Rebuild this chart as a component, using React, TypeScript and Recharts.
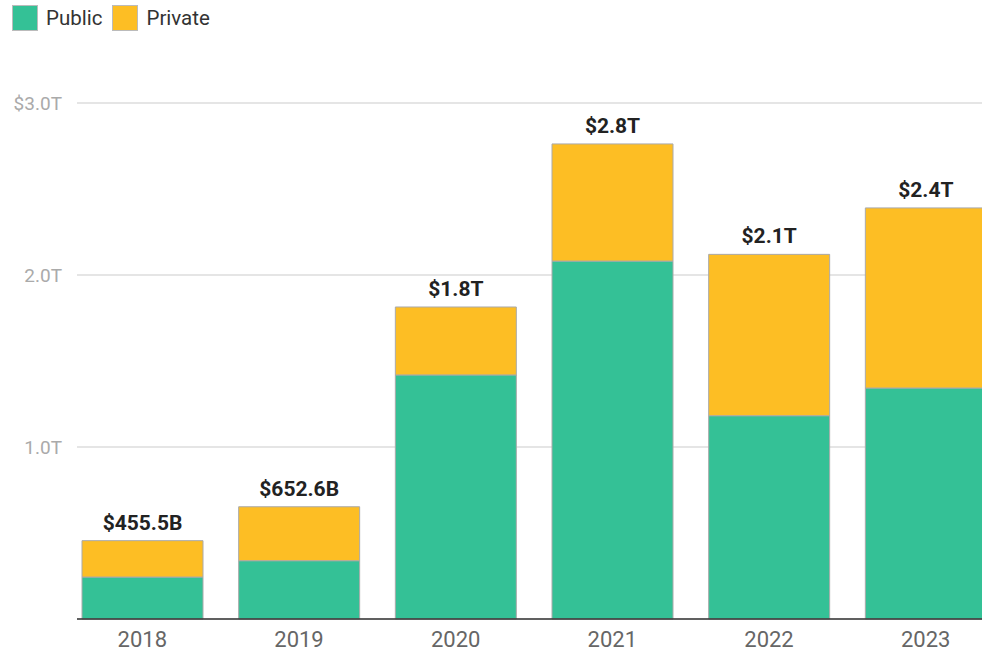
import { BarChart, Bar, XAxis, YAxis, CartesianGrid, LabelList } from "recharts";

const years = ["2018", "2019", "2020", "2021", "2022", "2023"];
// values in trillions of dollars
const publicValues = [0.244, 0.339, 1.419, 2.081, 1.182, 1.343];
const privateValues = [0.2115, 0.3136, 0.395, 0.681, 0.938, 1.047];
const totalLabels = ["$455.5B", "$652.6B", "$1.8T", "$2.8T", "$2.1T", "$2.4T"];
const yTicks = [1, 2, 3];

const GREEN = "#34c196";
const YELLOW = "#fdbe24";

const data = years.map((year, i) => ({
  year,
  public: publicValues[i],
  private: privateValues[i],
  label: totalLabels[i],
}));

const fmtY = (v: number) => (v === 3 ? "$3.0T" : `${v.toFixed(1)}T`);

function LegendBox() {
  const item = (color: string, text: string) => (
    <div style={{ display: "flex", alignItems: "center", marginRight: 10 }}>
      <div
        style={{
          width: 24,
          height: 24,
          background: color,
          border: "1px solid #bbb",
          marginRight: 8,
        }}
      />
      <span style={{ fontSize: 20.5, color: "#333" }}>{text}</span>
    </div>
  );
  return (
    <div
      style={{
        position: "absolute",
        left: 12,
        top: 5,
        display: "flex",
        fontFamily: "Roboto, sans-serif",
      }}
    >
      {item(GREEN, "Public")}
      {item(YELLOW, "Private")}
    </div>
  );
}

export default function App() {
  return (
    <div
      style={{
        position: "absolute",
        left: 0,
        top: 0,
        width: 982,
        height: 655,
        background: "#fff",
        overflow: "hidden",
        fontFamily: "Roboto, sans-serif",
      }}
    >
      <LegendBox />
      <BarChart
        width={982}
        height={655}
        data={data}
        margin={{ top: 103, right: 0, bottom: 0, left: 0 }}
        barSize={121}
      >
        <CartesianGrid vertical={false} stroke="#cccccc" strokeWidth={1.2} />
        <XAxis
          dataKey="year"
          padding={{ left: -13, right: -22 }}
          axisLine={{ stroke: "#333", strokeWidth: 1.5 }}
          tickLine={false}
          tickMargin={6}
          tick={{ fill: "#666", fontSize: 22 }}
          height={36}
        />
        <YAxis
          width={77}
          domain={[0, 3]}
          ticks={yTicks}
          tickFormatter={fmtY}
          axisLine={false}
          tickLine={false}
          tickMargin={9}
          tick={{ fill: "#aaa", fontSize: 19 }}
        />
        <Bar
          dataKey="public"
          stackId="a"
          fill={GREEN}
          stroke="#aaa"
          strokeWidth={1}
          isAnimationActive={false}
        />
        <Bar
          dataKey="private"
          stackId="a"
          fill={YELLOW}
          stroke="#aaa"
          strokeWidth={1}
          isAnimationActive={false}
        >
          <LabelList
            dataKey="label"
            position="top"
            offset={11}
            style={{ fill: "#222", fontSize: 21, fontWeight: 700 }}
          />
        </Bar>
      </BarChart>
    </div>
  );
}
